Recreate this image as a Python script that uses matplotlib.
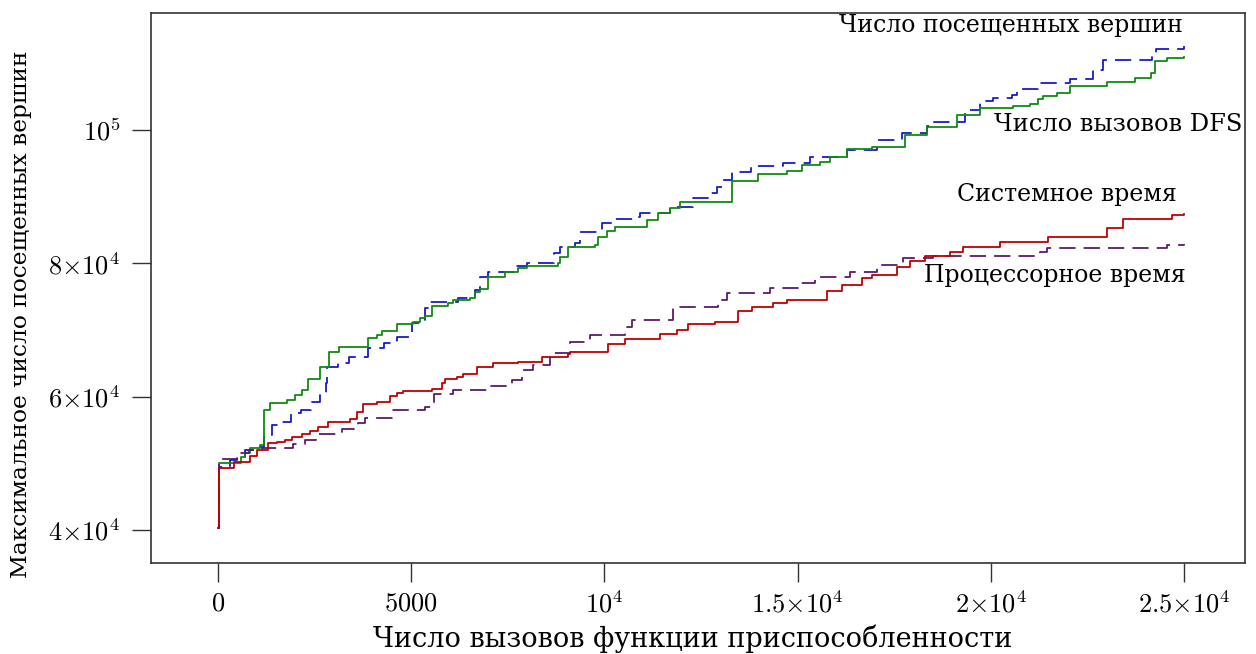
import matplotlib
matplotlib.use('Agg')
import matplotlib.pyplot as plt
from matplotlib.ticker import FixedLocator, FixedFormatter

plt.rcParams['font.family'] = ['DejaVu Serif']
plt.rcParams['mathtext.fontset'] = 'cm'

# Число вызовов DFS (сплошная зелёная)
dfs_x = [0, 30, 586, 699, 828, 1087, 1199, 1346, 1777, 1993, 2165, 2338, 2640, 2873,
         3131, 3890, 4106, 4236, 4624, 5055, 5228, 5357, 5530, 5961, 6090, 6522, 6651,
         6781, 6996, 7428, 7773, 7989, 8807, 8851, 9066, 9757, 9843, 10059, 10274,
         11094, 11396, 11698, 11957, 13294, 13967, 14717, 15106, 15580, 15839, 16270,
         16917, 17780, 18340, 19117, 19720, 20575, 21015, 21230, 21360, 21705, 22050,
         23000, 23732, 24138, 24250, 24552, 25000]
dfs_y = [40300, 50030, 51020, 51530, 52280, 52770, 58020, 59120, 59520, 60270, 61020,
         62670, 64520, 66760, 67510, 68770, 69260, 69910, 70870, 71260, 71770, 72110,
         73610, 74020, 74510, 74770, 75760, 76110, 78010, 78760, 79260, 79610, 80010,
         80910, 82510, 82760, 83910, 84900, 85500, 86510, 87600, 88260, 89250, 92350,
         93400, 93850, 94750, 95150, 95900, 97100, 97500, 99250, 100500, 102250,
         103250, 103600, 103850, 104600, 105100, 105600, 106600, 107250, 107850,
         108600, 110400, 110750, 111000]

# Число посещенных вершин (синяя пунктирная)
visited_x = [0, 30, 300, 500, 700, 1000, 1200, 1400, 1650, 1900, 2150, 2400, 2650, 2795,
             2830, 3100, 3390, 3890, 4300, 4624, 5012, 5357, 5487, 6219, 6651, 6780, 6996,
             7730, 8000, 8700, 8850, 9240, 9370, 9930, 10274, 10749, 10920, 11698, 12302,
             12690, 12906, 13076, 13294, 13794, 14630, 15321, 16270, 17047, 17693, 18340,
             18513, 19333, 19720, 20070, 20544, 20675, 21230, 22050, 22653, 22912, 24181,
             24268, 25000]
visited_y = [40300, 49520, 50500, 51000, 52020, 52400, 54270, 55770, 56270, 57520, 58020,
             59270, 60520, 62020, 64520, 65110, 66010, 67270, 68000, 69010, 71010, 73270,
             74270, 74860, 76010, 78010, 78760, 79610, 80110, 81610, 82510, 83010, 84760,
             86010, 86610, 87000, 87600, 88500, 89760, 90510, 91410, 92500, 93660, 94650,
             95000, 95900, 97000, 98500, 99500, 100600, 101250, 103000, 104400, 104750,
             105250, 106100, 107000, 107600, 109000, 110500, 111500, 112100, 112600]

# Системное время (сплошная красная)
sys_x = [0, 30, 410, 828, 1000, 1300, 1520, 1735, 1905, 2165, 2381, 2597, 2855, 3416,
         3588, 3760, 4106, 4452, 4624, 4796, 5530, 5789, 5875, 6177, 6350, 6695, 7126,
         7773, 8377, 9066, 9110, 10102, 10533, 11440, 11870, 12172, 12863, 13467, 13812,
         14371, 14717, 15753, 16141, 16659, 16917, 17564, 17909, 18297, 18945, 19290,
         20230, 21490, 23000, 23430, 24700, 25000]
sys_y = [40300, 49280, 50270, 51120, 52020, 53020, 53270, 53520, 53920, 54420, 54920,
         55520, 56270, 56620, 57770, 58870, 59170, 60120, 60520, 60870, 61120, 62020,
         62620, 63020, 63420, 64420, 65110, 65260, 65920, 66420, 66760, 67870, 68670,
         69370, 70010, 70870, 71260, 72860, 73420, 74020, 74510, 75910, 76760, 77760,
         78260, 79510, 80360, 81110, 81760, 82410, 83260, 84010, 85260, 86660, 87260,
         87400]

# Процессорное время (фиолетовая пунктирная)
cpu_x = [0, 30, 500, 800, 1130, 1950, 2250, 2550, 3200, 3630, 3800, 4500, 5357, 5580,
         6090, 6950, 7600, 7860, 8160, 8590, 9110, 9627, 10533, 10705, 11785, 12950,
         13165, 14285, 15062, 15450, 16357, 17047, 17736, 18500, 21273, 21446, 24552,
         25000]
cpu_y = [40300, 50620, 51620, 52020, 52270, 52920, 53520, 54420, 55120, 56110, 56770,
         58020, 58520, 60420, 61020, 61610, 62520, 64020, 64770, 66520, 68260, 69260,
         70510, 71510, 73510, 74510, 75610, 76260, 77010, 78010, 78760, 79760, 80760,
         81110, 81760, 82260, 82760, 82900]

x_ticks = [0, 5000, 10000, 15000, 20000, 25000]
x_tick_labels = [r'$0$', r'$5000$', r'$10^4$', r'$1.5{\times}10^4$', r'$2{\times}10^4$',
                 r'$2.5{\times}10^4$']
y_ticks = [40000, 60000, 80000, 100000]
y_tick_labels = [r'$4{\times}10^4$', r'$6{\times}10^4$', r'$8{\times}10^4$', r'$10^5$']

fig = plt.figure(figsize=(12.56, 6.54), dpi=100)
ax = fig.add_axes([0.1202, 0.1391, 0.871, 0.841])

ax.plot(visited_x, visited_y, drawstyle='steps-post', color='#1a1acc', lw=1.3,
        dashes=(9, 4.5))
ax.plot(dfs_x, dfs_y, drawstyle='steps-post', color='#108a10', lw=1.3)
ax.plot(cpu_x, cpu_y, drawstyle='steps-post', color='#5b1a6b', lw=1.3, dashes=(9, 4.5))
ax.plot(sys_x, sys_y, drawstyle='steps-post', color='#c00000', lw=1.3)

ax.set_xlim(-1734, 26579)
ax.set_ylim(35052, 117541)

ax.xaxis.set_major_locator(FixedLocator(x_ticks))
ax.xaxis.set_major_formatter(FixedFormatter(x_tick_labels))
ax.yaxis.set_major_locator(FixedLocator(y_ticks))
ax.yaxis.set_major_formatter(FixedFormatter(y_tick_labels))
ax.tick_params(direction='out', length=14, width=1, color='#333333', labelsize=19,
               pad=6)
ax.tick_params(axis='y', pad=8)
for s in ax.spines.values():
    s.set_linewidth(1.2)
    s.set_color('#333333')

fs = 17
ax.text(24974, 115743, 'Число посещенных вершин', ha='right', va='center', fontsize=fs)
ax.text(26501, 100750, 'Число вызовов DFS', ha='right', va='center', fontsize=17.4)
ax.text(24819, 90255, 'Системное время', ha='right', va='center', fontsize=fs)
ax.text(25052, 78110, 'Процессорное время', ha='right', va='center', fontsize=fs)

ax.set_xlabel('Число вызовов функции приспособленности', fontsize=19.5)
ax.set_ylabel('Максимальное число посещенных вершин', fontsize=16.8)
ax.xaxis.set_label_coords(0.4954, -0.112)
ax.yaxis.set_label_coords(-0.1088, 0.453)

fig.savefig('out.png', dpi=100)
